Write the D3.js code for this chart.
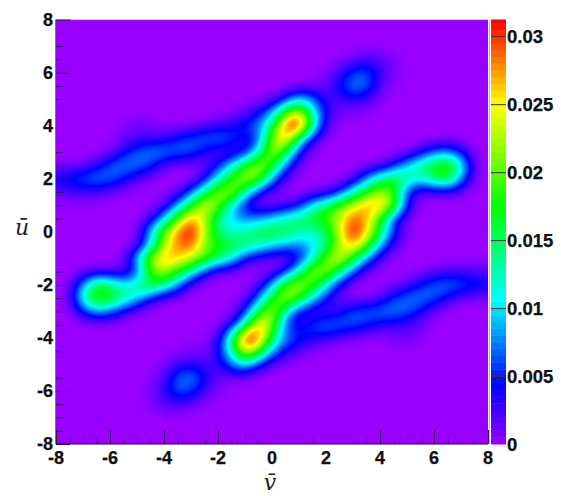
<!DOCTYPE html>
<html>
<head>
<meta charset="utf-8">
<script src="https://cdnjs.cloudflare.com/ajax/libs/d3/7.8.5/d3.min.js"></script>
<style>
  html, body { margin: 0; padding: 0; background: #fff; }
  svg { display: block; }
  .num { font-family: "Liberation Sans", Arial, sans-serif; font-weight: bold; fill: #111; stroke: #111; stroke-width: 0.25px; }
  .title { font-family: "DejaVu Serif", serif; font-style: italic; fill: #222; }
</style>
</head>
<body>
<script>
// grid axes
var vValues = d3.range(-8, 8.01, 0.5);
var uValues = d3.range(8, -8.01, -0.5);

// density, in units of 0.001, one row per u (top to bottom), one column per v
var density = [
  [0,0,0,0,0,0,0,0,0,0,0,0,0,0,0,0,0,0,0,0,0,0,0,0,0,0,0,0,0,0,0,0,0],
  [0,0,0,0,0,0,0,0,0,0,0,0,0,0,0,0,0,0,0,0,0,0,0,0,0,0,0,0,0,0,0,0,0],
  [0,0,0,0,0,0,0,0,0,0,0,0,0,0,0,0,0,0,0,0,0,0,0,0,0,0,0,0,0,0,0,0,0],
  [0,0,0,0,0,0,0,0,0,0,0,0,0,0,0,0,0,0,0,0,0,.5,1.5,2.5,2,.7,.1,0,0,0,0,0,0],
  [0,0,0,0,0,0,0,0,0,0,0,0,0,0,0,0,0,0,0,.2,.8,2.5,5.5,6.5,3,1,.3,0,0,0,0,0,0],
  [0,0,0,0,0,0,0,0,0,0,0,0,0,0,0,0,0,.2,.6,1,1.5,4.5,8,7,2,.5,.1,0,0,0,0,0,0],
  [0,0,0,0,0,0,0,0,0,0,0,0,0,0,.2,.5,1,4.5,10,7,2.5,2.5,3.5,2.5,.7,.1,0,0,0,0,0,0,0],
  [0,0,0,0,0,0,0,0,0,0,0,0,.2,.7,1.5,4,8.5,19,25,12,4,1,1,.5,.1,0,0,0,0,0,0,0,0],
  [0,0,0,0,0,.7,1.5,1.2,.5,.3,.5,1.5,2.5,3.5,5.5,8,15,29,33,14,2.5,.5,.1,0,0,0,0,0,0,0,0,0,0],
  [0,0,0,0,.3,1.3,2.5,2.5,3,5,6.5,7.5,8,6.5,3.5,6,21,28,12,3,.3,0,0,0,0,0,0,0,0,0,0,0,0],
  [0,0,0,.3,1,4,6.5,8,8,7,6.5,3,1.5,1.5,3.5,12,23,16,5,.8,0,0,0,0,0,0,.5,3,6.5,8,4.5,.3,0],
  [.6,.8,1.2,3,6.5,8,7.5,5.5,1.5,.5,.2,1.5,5,11,18,23,18,7,1,.1,0,0,.1,.3,1,4,10,14,17.5,20,12,1.5,.1],
  [4.5,5.5,7,8,7,4.5,2,.8,.2,.1,.4,3.5,11,18,23,20,8,1.8,.3,.1,.2,.4,1.5,8,14,18,14,11.5,15,17,8,.7,0],
  [1.5,2,2.2,2,1.2,.5,.2,.1,.3,1.5,6,14,22,23,13,4,1.5,.3,.1,.3,1,4.5,12,18,22,18,4.5,1.5,1.5,2,.8,.1,0],
  [.2,.3,.3,.3,.2,.1,.1,.5,2,8,17,26,20,11,3.5,1.2,.8,1.8,4,11,15,20,24,27,28,21,5,.5,.1,.1,0,0,0],
  [0,0,0,0,0,0,.3,2,9,20,28,22,14,10,8,8,10,13,15,17,20,23,29,27,18,5,.7,0,0,0,0,0,0],
  [0,0,0,0,0,0,1,10,21,28,32,24,14,12,13,16,17,16,13,12,14,24,32,26,16,6,.8,0,0,0,0,0,0],
  [0,0,0,0,0,0,.8,9,22,28,29,21,18,17,15,13,10,8,8,10,14,22,27,20,9,2,.3,0,0,0,0,0,0],
  [0,0,0,.1,.1,1.5,10,23,28,26,24,20,15,11,4,1.8,.8,1.2,3.5,11,20,26,17,8,2,.5,.1,.1,.2,.3,.3,.3,.2],
  [0,.1,.8,1,1.5,1.5,4.5,18,22,18,12,4.5,1,.3,.1,.3,1.5,4,13,23,22,14,6,1.5,.3,.1,.2,.5,1.2,2,2.2,2,1.5],
  [0,.7,8,17,15,11.5,14,18,14,8,1.5,.4,.2,.1,.3,1.8,8,20,23,18,11,3.5,.4,.1,.2,.8,2,4.5,7,8,7,5.5,4.5],
  [.1,1.5,12,20,17.5,14,10,4,1,.3,.1,0,0,.1,1,7,18,23,18,11,5,1.5,.2,.5,1.5,5.5,7.5,8,6.5,3,1.2,.8,.6],
  [0,.3,4.5,8,6.5,3,.5,0,0,0,0,0,0,.8,5,16,23,12,3.5,1.5,1.5,3,6.5,7,8,8,6.5,4,1,.3,0,0,0],
  [0,0,0,0,0,0,0,0,0,0,0,0,.3,3,12,28,21,6,3.5,6.5,8,7.5,6.5,5,3,2.5,2.5,1.3,.3,0,0,0,0],
  [0,0,0,0,0,0,0,0,0,0,.1,.5,2.5,14,33,29,15,8,5.5,3.5,2.5,1.5,.5,.3,.5,1.2,1.5,.7,0,0,0,0,0],
  [0,0,0,0,0,0,0,0,.1,.5,1,1,4,12,25,19,8.5,4,1.5,.7,.2,0,0,0,0,0,0,0,0,0,0,0,0],
  [0,0,0,0,0,0,0,.1,.7,2.5,3.5,2.5,2.5,7,10,4.5,1,.5,.2,0,0,0,0,0,0,0,0,0,0,0,0,0,0],
  [0,0,0,0,0,0,.1,.5,2,7,8,4.5,1.5,1,.6,.2,0,0,0,0,0,0,0,0,0,0,0,0,0,0,0,0,0],
  [0,0,0,0,0,0,.3,1,3,6.5,5.5,2.5,.8,.2,0,0,0,0,0,0,0,0,0,0,0,0,0,0,0,0,0,0,0],
  [0,0,0,0,0,0,.1,.7,2,2.5,1.5,.5,0,0,0,0,0,0,0,0,0,0,0,0,0,0,0,0,0,0,0,0,0],
  [0,0,0,0,0,0,0,0,0,0,0,0,0,0,0,0,0,0,0,0,0,0,0,0,0,0,0,0,0,0,0,0,0],
  [0,0,0,0,0,0,0,0,0,0,0,0,0,0,0,0,0,0,0,0,0,0,0,0,0,0,0,0,0,0,0,0,0],
  [0,0,0,0,0,0,0,0,0,0,0,0,0,0,0,0,0,0,0,0,0,0,0,0,0,0,0,0,0,0,0,0,0]
];

// tick labels and the tick marks that show in the picture
var axisLabels = [-8, -6, -4, -2, 0, 2, 4, 6, 8];
var xMajor = [-8, -6, -4, -2, 4, 6, 8];
var xMinor = [-7.5, -7, -6.5, -5.5, -5, -4.5, -3.5, -3, -2.5, -1.5, -1, -0.5, 1.5, 3, 3.5, 4.5, 5, 5.5, 6.5, 7, 7.5];
var yMajor = [8, 6, 2, -2, -6, -8];
var yMinor = [7, 6.5, 5.5, 5, 3, 2.5, 1.5, 1, 0.5, -1.5, -2.5, -3, -3.5, -4.5, -5.5, -6.5, -7, -7.5];
var colorbarTicks = [0, 0.005, 0.01, 0.015, 0.02, 0.025, 0.03];
var colorbarMax = 0.03123;

// colormap stops, value in units of 0.001
var colorStops = [0, 4.4, 10.6, 17.5, 25, 31.2];
var colorNames = ["#9900ff", "#0000ff", "#00ffff", "#00ff00", "#ffff00", "#ff0000"];

var width = 561;
var height = 496;
var plotLeft = 56;
var plotRight = 488;
var plotTop = 19.5;
var plotBottom = 444;
var barLeft = 491;
var barRight = 506;

var xScale = d3.scaleLinear().domain([-8, 8]).range([plotLeft, plotRight]);
var yScale = d3.scaleLinear().domain([-8, 8]).range([plotBottom, plotTop]);
var colorScale = d3.scaleLinear().domain(colorStops).range(colorNames).clamp(true);
var barScale = d3.scaleLinear().domain([0, colorbarMax]).range([plotBottom, plotTop]);

var svg = d3.select("body").append("svg")
  .attr("width", width)
  .attr("height", height);

svg.append("defs").append("clipPath")
  .attr("id", "plot-clip")
  .append("rect")
  .attr("x", plotLeft)
  .attr("y", plotTop)
  .attr("width", plotRight - plotLeft)
  .attr("height", plotBottom - plotTop);

// Catmull-Rom so the contours come out round instead of showing the 0.5 grid
function cubic(a, b, c, d, t) {
  return b + 0.5 * t * (c - a + t * (2 * a - 5 * b + 4 * c - d + t * (3 * (b - c) + d - a)));
}

function upsample(rows, factor) {
  var n = rows.length;
  var size = (n - 1) * factor + 1;
  var out = new Array(size * size);
  function at(r, c) {
    return rows[Math.max(0, Math.min(n - 1, r))][Math.max(0, Math.min(n - 1, c))];
  }
  for (var j = 0; j < size; j++) {
    var r = Math.floor(j / factor), tr = j / factor - r;
    for (var i = 0; i < size; i++) {
      var c = Math.floor(i / factor), tc = i / factor - c;
      var col = [];
      for (var k = -1; k <= 2; k++) {
        col.push(cubic(at(r + k, c - 1), at(r + k, c), at(r + k, c + 1), at(r + k, c + 2), tc));
      }
      out[j * size + i] = Math.max(0, cubic(col[0], col[1], col[2], col[3], tr));
    }
  }
  return { values: out, size: size };
}

var factor = 6;
var fine = upsample(density, factor);
// the 0.5 grid still shows along the diagonal ridges, soften it
d3.blur2({ data: fine.values, width: fine.size, height: fine.size }, 2.5);
var levels = d3.range(0.2, 31.3, 0.2);

var contours = d3.contours()
  .size([fine.size, fine.size])
  .thresholds(levels)(fine.values);

// contour coordinates are grid cells, half a cell off the sample points
var path = d3.geoPath(d3.geoTransform({
  point: function(gx, gy) {
    var v = -8 + (gx - 0.5) * 0.5 / factor;
    var u = 8 - (gy - 0.5) * 0.5 / factor;
    this.stream.point(xScale(v), yScale(u));
  }
}));

var plot = svg.append("g").attr("clip-path", "url(#plot-clip)");

plot.append("rect")
  .attr("x", plotLeft)
  .attr("y", plotTop)
  .attr("width", plotRight - plotLeft)
  .attr("height", plotBottom - plotTop)
  .attr("fill", colorScale(0));

plot.selectAll("path")
  .data(contours)
  .enter()
  .append("path")
  .attr("d", path)
  .attr("fill", d => colorScale(d.value));

// colorbar, banded every 0.0005
var bands = d3.range(0, 31.2, 0.5);
svg.append("g").selectAll("rect")
  .data(bands)
  .enter()
  .append("rect")
  .attr("x", barLeft)
  .attr("width", barRight - barLeft)
  .attr("y", d => barScale(Math.min(d + 0.5, colorbarMax * 1000) / 1000))
  .attr("height", d => barScale(d / 1000) - barScale(Math.min(d + 0.5, colorbarMax * 1000) / 1000) + 0.5)
  .attr("fill", d => colorScale(d + 0.25));

svg.append("line")
  .attr("x1", 489.5).attr("x2", 489.5)
  .attr("y1", plotTop).attr("y2", plotBottom)
  .attr("stroke", "#b8b8b8");

// tick marks point into the plot
function drawTicks(axis, transform, color) {
  var g = svg.append("g")
    .attr("transform", transform)
    .call(axis.tickFormat(""));
  g.select(".domain").remove();
  g.selectAll("line").attr("stroke", color);
}

var tickColor = "#3a1060";
drawTicks(d3.axisBottom(xScale).tickValues(xMajor).tickSizeOuter(0).tickSizeInner(-14), "translate(0," + plotBottom + ")", tickColor);
drawTicks(d3.axisBottom(xScale).tickValues(xMinor).tickSizeOuter(0).tickSizeInner(-7), "translate(0," + plotBottom + ")", tickColor);
drawTicks(d3.axisLeft(yScale).tickValues(yMajor).tickSizeOuter(0).tickSizeInner(-14), "translate(" + plotLeft + ",0)", tickColor);
drawTicks(d3.axisLeft(yScale).tickValues(yMinor).tickSizeOuter(0).tickSizeInner(-7), "translate(" + plotLeft + ",0)", tickColor);
drawTicks(d3.axisLeft(barScale).tickValues(colorbarTicks.slice(1)).tickSizeOuter(0).tickSizeInner(-15), "translate(" + barLeft + ",0)", "#333");

// axis frame
svg.append("line")
  .attr("x1", plotLeft).attr("x2", plotRight)
  .attr("y1", plotBottom).attr("y2", plotBottom)
  .attr("stroke", "#111").attr("stroke-width", 1);
svg.append("line")
  .attr("x1", plotLeft - 0.5).attr("x2", plotLeft - 0.5)
  .attr("y1", plotTop).attr("y2", plotBottom)
  .attr("stroke", "#777").attr("stroke-width", 1);

// numbers
svg.append("g").selectAll("text")
  .data(axisLabels)
  .enter()
  .append("text")
  .attr("class", "num")
  .attr("font-size", 18)
  .attr("text-anchor", "middle")
  .attr("x", d => xScale(d))
  .attr("y", 464)
  .text(d => d);

svg.append("g").selectAll("text")
  .data(axisLabels)
  .enter()
  .append("text")
  .attr("class", "num")
  .attr("font-size", 18)
  .attr("text-anchor", "end")
  .attr("x", 53)
  .attr("y", d => yScale(d) + 6)
  .text(d => d);

svg.append("g").selectAll("text")
  .data(colorbarTicks)
  .enter()
  .append("text")
  .attr("class", "num")
  .attr("font-size", 18.5)
  .attr("x", 507)
  .attr("y", d => barScale(d) + 6.5)
  .text(d => d);

// axis titles
svg.append("text")
  .attr("class", "title")
  .attr("font-size", 22)
  .attr("text-anchor", "middle")
  .attr("x", 270)
  .attr("y", 490)
  .text("v\u0304");

svg.append("text")
  .attr("class", "title")
  .attr("font-size", 22)
  .attr("text-anchor", "middle")
  .attr("x", 22)
  .attr("y", 235)
  .text("u\u0304");
</script>
</body>
</html>
